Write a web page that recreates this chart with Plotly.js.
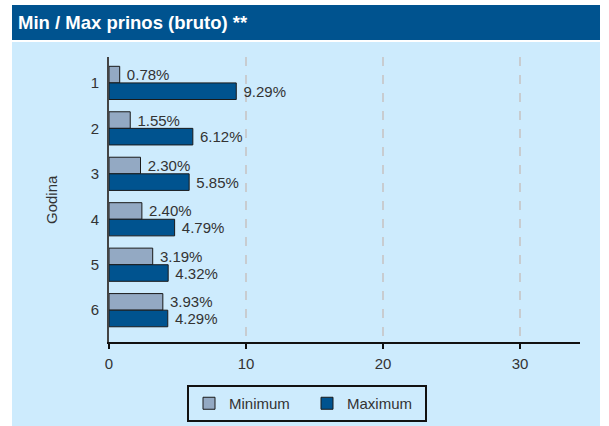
<!DOCTYPE html>
<html>
<head>
<meta charset="utf-8">
<script src="https://cdn.plot.ly/plotly-3.0.1.min.js"></script>
<style>html,body{margin:0;padding:0;background:#fff;}#chart{width:609px;height:426px;}</style>
</head>
<body>
<div id="chart"></div>
<script>
const years = [1, 2, 3, 4, 5, 6];
const minimum = [0.78, 1.55, 2.30, 2.40, 3.19, 3.93];
const maximum = [9.29, 6.12, 5.85, 4.79, 4.32, 4.29];
const xTicks = [0, 10, 20, 30];

const W = 609, H = 426, L = 109, R = 29, T = 57, B = 84;
const pw = W - L - R, ph = H - T - B;
const px = v => (v - L) / pw;
const py = v => (H - B - v) / ph;

const font = "'Liberation Sans', Arial, sans-serif";

const traces = [
  {type: 'bar', orientation: 'h', name: 'Minimum', y: years, x: minimum,
   marker: {color: '#93a9c3', line: {color: '#1a1a1a', width: 1}},
   texttemplate: '\u00a0%{x:.2f}%', textposition: 'outside', cliponaxis: false, constraintext: 'none',
   textfont: {size: 15, color: '#333', family: font}, hoverinfo: 'none'},
  {type: 'bar', orientation: 'h', name: 'Maximum', y: years, x: maximum,
   marker: {color: '#00538f', line: {color: '#1a1a1a', width: 1}},
   texttemplate: '\u00a0%{x:.2f}%', textposition: 'outside', cliponaxis: false, constraintext: 'none',
   textfont: {size: 15, color: '#333', family: font}, hoverinfo: 'none'}
];

const layout = {
  width: W, height: H,
  margin: {l: L, r: R, t: T, b: B, autoexpand: false},
  paper_bgcolor: '#ffffff', plot_bgcolor: 'rgba(0,0,0,0)',
  font: {family: font, size: 15, color: '#333'},
  barmode: 'group', bargap: 0.27, bargroupgap: 0,
  showlegend: true,
  legend: {orientation: 'h', xref: 'container', yref: 'container',
           x: 187 / W, y: 1 - 385 / H, xanchor: 'left', yanchor: 'top',
           bordercolor: '#111', borderwidth: 2, bgcolor: 'rgba(0,0,0,0)',
           font: {size: 15, color: '#333', family: font}, itemwidth: 30,
           entrywidth: 73, entrywidthmode: 'pixels', traceorder: 'normal'},
  xaxis: {range: [0, (580 - L) / 13.7], tickvals: xTicks, ticks: 'outside', ticklen: 5,
          tickwidth: 2, tickcolor: '#111', showline: true, linecolor: '#111', linewidth: 2,
          showgrid: true, gridcolor: '#c8ccd0', griddash: 'dash', gridwidth: 1.5,
          zeroline: false, ticklabelstandoff: 2, tickfont: {size: 15, color: '#333'}, fixedrange: true},
  yaxis: {range: [6.7, 0.43], tickvals: years, ticktext: years.map(String), ticks: '',
          showline: true, linecolor: '#444', linewidth: 2, showgrid: false, zeroline: false,
          ticklabelstandoff: 5, tickfont: {size: 15, color: '#333'}, fixedrange: true},
  shapes: [
    {type: 'rect', xref: 'paper', yref: 'paper', x0: px(12), x1: px(600), y0: py(430), y1: py(42),
     fillcolor: '#cdebfd', line: {width: 0}, layer: 'below'},
    {type: 'rect', xref: 'paper', yref: 'paper', x0: px(12), x1: px(600), y0: py(40), y1: py(5),
     fillcolor: '#00538f', line: {width: 0}, layer: 'below'}
  ],
  annotations: [
    {text: 'Min / Max prinos (bruto) **', xref: 'paper', yref: 'paper', x: px(16), y: py(22),
     xanchor: 'left', yanchor: 'middle', showarrow: false,
     font: {size: 18.5, color: '#ffffff', family: font, weight: 'bold'}},
    {text: 'Godina', xref: 'paper', yref: 'paper', x: px(51), y: py(200), textangle: -90,
     xanchor: 'center', yanchor: 'middle', showarrow: false,
     font: {size: 15, color: '#333', family: font}}
  ]
};

Plotly.newPlot('chart', traces, layout, {displayModeBar: false, staticPlot: true});
</script>
</body>
</html>
